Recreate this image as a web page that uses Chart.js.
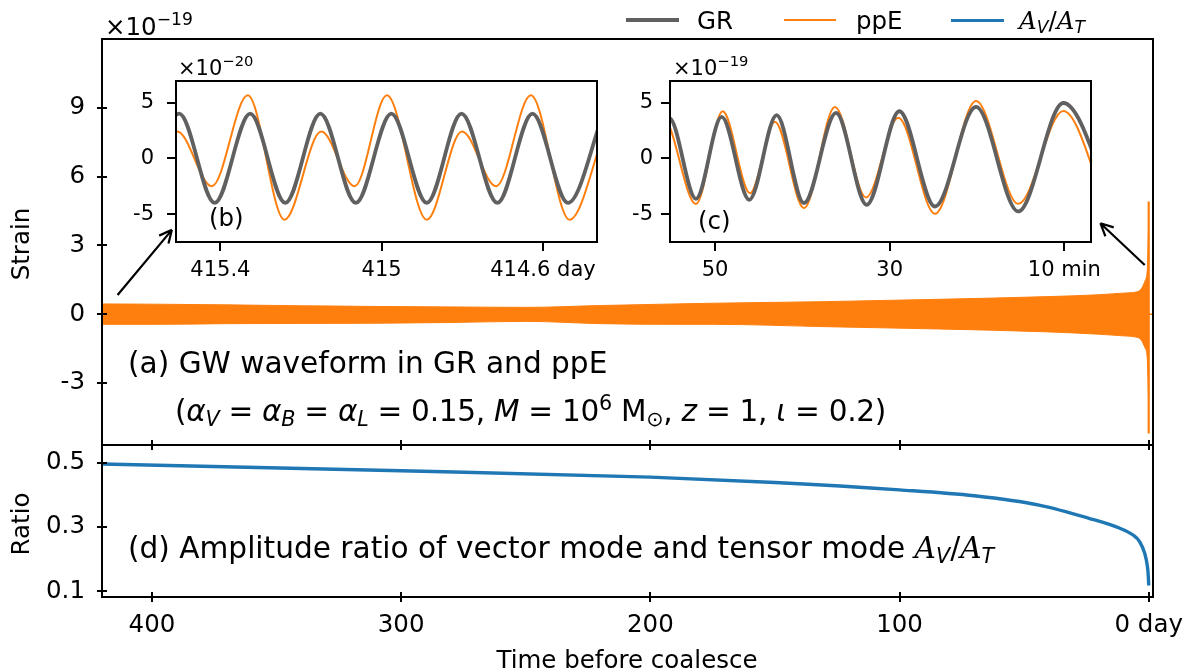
<!DOCTYPE html>
<html>
<head>
<meta charset="utf-8">
<script src="https://cdn.jsdelivr.net/npm/chart.js@4.4.0/dist/chart.umd.min.js"></script>
<style>
  body { margin: 0; background: #fff; }
  #fig { position: relative; width: 1190px; height: 671px; overflow: hidden; font-family: 'DejaVu Sans', sans-serif; color: #000; }
  #fig canvas { position: absolute; left: 0; top: 0; }
  .t { position: absolute; white-space: nowrap; line-height: 1; transform: translateY(-50%); }
  .t sub, .t sup { font-size: 70%; line-height: 0; }
  .t sub { vertical-align: -0.25em; }
  .t sup { vertical-align: 0.55em; }
  .lg { position: absolute; }
  .cal { font-family: 'DejaVu Serif', serif; font-style: italic; }
</style>
</head>
<body>
<div id="fig">
  <canvas id="cA" width="1190" height="671"></canvas>
  <canvas id="cD" width="1190" height="671"></canvas>
  <canvas id="cB" width="1190" height="671"></canvas>
  <canvas id="cC" width="1190" height="671"></canvas>

  <div class="t" style="left:105px;top:27px;font-size:24.5px">×10<sup>−19</sup></div>
  <div class="t" style="left:178px;top:68px;font-size:21px">×10<sup>−20</sup></div>
  <div class="t" style="left:673px;top:68px;font-size:21px">×10<sup>−19</sup></div>
  <div class="t" style="left:209px;top:218px;font-size:24.5px">(b)</div>
  <div class="t" style="left:698px;top:221px;font-size:24.5px">(c)</div>
  <div class="t" style="left:128px;top:364px;font-size:29.6px">(a) GW waveform in GR and ppE</div>
  <div class="t" style="left:175px;top:412px;font-size:29.6px;letter-spacing:-0.3px">(<i>α<sub>V</sub></i> = <i>α<sub>B</sub></i> = <i>α<sub>L</sub></i> = 0.15, <i>M</i> = 10<sup>6</sup> M<sub>⊙</sub>, <i>z</i> = 1, <i>ι</i> = 0.2)</div>
  <div class="t" style="left:128px;top:549px;font-size:29.6px">(d) Amplitude ratio of vector mode and tensor mode <span class="cal">A</span><sub><i>V</i></sub>/<span class="cal">A</span><sub><i>T</i></sub></div>

  <div class="t" style="left:21px;top:244px;font-size:24.5px;transform:translate(-50%,-50%) rotate(-90deg)">Strain</div>
  <div class="t" style="left:21px;top:524px;font-size:24.5px;transform:translate(-50%,-50%) rotate(-90deg)">Ratio</div>
  <div class="t" style="left:627px;top:660px;font-size:24.5px;transform:translate(-50%,-50%)">Time before coalesce</div>

  <div class="lg" style="left:626px;top:18.2px;width:53px;height:3.6px;background:#606060"></div>
  <div class="t" style="left:697px;top:21px;font-size:24.5px">GR</div>
  <div class="lg" style="left:784px;top:19px;width:52px;height:2px;background:#ff7f0e"></div>
  <div class="t" style="left:856px;top:21px;font-size:24.5px">ppE</div>
  <div class="lg" style="left:951px;top:18.5px;width:53px;height:3px;background:#1f77b4"></div>
  <div class="t" style="left:1019px;top:21px;font-size:24.5px"><span class="cal">A</span><sub><i>V</i></sub>/<span class="cal">A</span><sub><i>T</i></sub></div>
</div>

<script>
// main axes, days before coalescence
const xTicksDays = [0, 100, 200, 300, 400];
const strainTicks = [-3, 0, 3, 6, 9];
const ratioTicks = [0.1, 0.3, 0.5];

// (a) envelope of the dense ppE oscillation, strain in 1e-19
const bandDays  = [420, 400, 370, 340, 310, 280, 250, 220, 190, 175, 130, 85, 40, 20, 9, 6, 3, 2.3, 1.3, 0.9, 0.5, 0.28, 0.1, 0];
const bandUpper = [0.45, 0.44, 0.41, 0.37, 0.34, 0.32, 0.30, 0.38, 0.45, 0.48, 0.55, 0.65, 0.77, 0.85, 0.93, 0.95, 1.10, 1.24, 1.50, 1.64, 2.10, 2.95, 3.60, 3.70];
const bandLower = [-0.44, -0.44, -0.41, -0.40, -0.39, -0.36, -0.31, -0.41, -0.44, -0.44, -0.54, -0.64, -0.77, -0.87, -0.95, -0.98, -1.12, -1.27, -1.50, -1.63, -2.10, -2.87, -3.60, -3.70];
const spikeDays = [0, 0];
const spikeStrain = [4.92, -5.2];
const tailDays = [0, -1.7];
const tailStrain = [0, 0];

// (d) amplitude ratio A_V/A_T
const ratioDays = [420, 300, 200, 150, 100, 70, 44, 24, 11.6, 6.3, 3.6, 1.6, 0.5, 0.15, 0];
const ratioVals = [0.496, 0.475, 0.455, 0.4385, 0.4155, 0.397, 0.368, 0.327, 0.296, 0.275, 0.254, 0.218, 0.176, 0.145, 0.118];

// (b) zoom near 415 days, strain in 1e-20
const bTicksX = [415.4, 415, 414.6];
const insetTicksY = [-5, 0, 5];
const bGrDays = [415.589, 415.502, 415.414, 415.326, 415.239, 415.152, 415.064, 414.976, 414.888, 414.802, 414.713, 414.626, 414.538, 414.450];
const bGrStrain = [-4, 4, -4, 4, -4, 4, -4, 4, -4, 4, -4, 4, -4, 4];
const bPpeDays = [415.597, 415.507, 415.421, 415.332, 415.241, 415.150, 415.067, 414.987, 414.888, 414.801, 414.716, 414.630, 414.534, 414.447];
const bPpeStrain = [-5.5, 2.4, -2.5, 5.65, -5.5, 2.4, -2.5, 5.65, -5.5, 2.4, -2.5, 5.65, -5.5, 2.4];

// (c) last hour, minutes before coalescence, strain in 1e-19
const cTicksX = [50, 30, 10];
const cGrMin = [58.21, 55.23, 52.18, 49.24, 46.07, 42.94, 39.81, 36.14, 32.63, 28.89, 24.81, 20.11, 15.27, 10.11, 4.01];
const cGrStrain = [-3.6, 3.6, -3.63, 3.71, -3.72, 3.87, -4.02, 4.07, -4.17, 4.22, -4.32, 4.61, -4.76, 4.96, -5.0];
const cPpeMin = [58.78, 55.92, 52.18, 49.12, 45.99, 43.13, 39.81, 36.26, 32.71, 29.01, 24.81, 20.11, 15.27, 10.11, 5.15];
const cPpeStrain = [-3.5, 3.6, -4.1, 4.22, -3.13, 3.27, -4.46, 4.61, -3.51, 3.63, -4.97, 5.14, -4.08, 4.25, -4.25];

// arrows from the main band to the insets, in (days, strain) of panel (a)
const arrowTails = [[413.8, 0.84], [1.6, 2.15]];
const arrowHeads = [[392.0, 3.68], [19.4, 3.97]];

const W = 1190, H = 671;
const GRAY = '#606060', ORANGE = '#ff7f0e', BLUE = '#1f77b4';
const FONT = { family: 'DejaVu Sans', size: 24.5 };
const SMALL = { family: 'DejaVu Sans', size: 21 };

const pts = (xs, ys) => xs.map((x, i) => ({ x: x, y: ys[i] }));
const padFor = (b, yW, xH) => ({ left: b.l - yW, top: b.t, right: W - b.r, bottom: H - b.b - xH });
const fixTicks = vals => s => { s.ticks = vals.map(v => ({ value: v })); };
const grid = len => ({ drawOnChartArea: false, drawTicks: true, tickLength: len, color: '#000', lineWidth: 2 });

// box around the plot area, white fill for insets, inward half of "inout" ticks
const framePlugin = {
  id: 'frame',
  beforeDraw(chart, args, opts) {
    if (!opts.fill) return;
    const a = chart.chartArea, ctx = chart.ctx;
    ctx.save();
    ctx.fillStyle = '#fff';
    ctx.fillRect(a.left, a.top, a.right - a.left, a.bottom - a.top);
    ctx.restore();
  },
  afterDraw(chart, args, opts) {
    const a = chart.chartArea, ctx = chart.ctx;
    ctx.save();
    ctx.strokeStyle = '#000';
    ctx.lineWidth = 2;
    if (opts.inward) {
      ctx.beginPath();
      chart.scales.x.ticks.forEach(t => {
        const px = Math.round(chart.scales.x.getPixelForValue(t.value));
        ctx.moveTo(px, a.bottom);
        ctx.lineTo(px, a.bottom - opts.inward);
      });
      chart.scales.y.ticks.forEach(t => {
        const py = Math.round(chart.scales.y.getPixelForValue(t.value));
        ctx.moveTo(a.left, py);
        ctx.lineTo(a.left + opts.inward, py);
      });
      ctx.stroke();
    }
    ctx.strokeRect(a.left, a.top, a.right - a.left, a.bottom - a.top);
    ctx.restore();
  }
};

const arrowPlugin = {
  id: 'arrows',
  afterDraw(chart) {
    const ctx = chart.ctx, sx = chart.scales.x, sy = chart.scales.y;
    ctx.save();
    ctx.strokeStyle = '#000';
    ctx.lineWidth = 2.2;
    arrowTails.forEach((tail, i) => {
      const x0 = sx.getPixelForValue(tail[0]), y0 = sy.getPixelForValue(tail[1]);
      const x1 = sx.getPixelForValue(arrowHeads[i][0]), y1 = sy.getPixelForValue(arrowHeads[i][1]);
      const ang = Math.atan2(y1 - y0, x1 - x0);
      ctx.beginPath();
      ctx.moveTo(x0, y0);
      ctx.lineTo(x1, y1);
      [0.45, -0.45].forEach(d => {
        ctx.moveTo(x1, y1);
        ctx.lineTo(x1 - 14 * Math.cos(ang + d), y1 - 14 * Math.sin(ang + d));
      });
      ctx.stroke();
    });
    ctx.restore();
  }
};

const base = {
  responsive: false,
  animation: false,
  events: [],
  elements: { point: { radius: 0 } }
};

// (a) strain
const boxA = { l: 102, t: 39, r: 1153, b: 445 };
new Chart(document.getElementById('cA'), {
  type: 'line',
  data: {
    datasets: [
      { data: pts(bandDays, bandUpper), borderColor: ORANGE, backgroundColor: ORANGE, borderWidth: 1, fill: '+1', cubicInterpolationMode: 'monotone' },
      { data: pts(bandDays, bandLower), borderColor: ORANGE, borderWidth: 1, fill: false, cubicInterpolationMode: 'monotone' },
      { data: pts(spikeDays, spikeStrain), borderColor: ORANGE, borderWidth: 2.2, fill: false },
      { data: pts(tailDays, tailStrain), borderColor: ORANGE, borderWidth: 1.5, fill: false }
    ]
  },
  options: Object.assign({}, base, {
    layout: { padding: padFor(boxA, 60, 10) },
    plugins: { legend: { display: false }, tooltip: { enabled: false }, frame: { inward: 5 } },
    scales: {
      x: {
        type: 'linear', reverse: true, min: -1.72, max: 420.05,
        afterBuildTicks: fixTicks(xTicksDays), afterFit: s => { s.height = 10; },
        ticks: { display: false }, grid: grid(5), border: { display: false }
      },
      y: {
        min: -5.7, max: 12.0,
        afterBuildTicks: fixTicks(strainTicks), afterFit: s => { s.width = 60; },
        ticks: { font: FONT, color: '#000', padding: 12, callback: v => String(v) },
        grid: grid(5), border: { display: false }
      }
    }
  }),
  plugins: [framePlugin, arrowPlugin]
});

// (d) ratio
const boxD = { l: 102, t: 445, r: 1153, b: 597 };
new Chart(document.getElementById('cD'), {
  type: 'line',
  data: {
    datasets: [
      { data: pts(ratioDays, ratioVals), borderColor: BLUE, borderWidth: 3.4, fill: false, cubicInterpolationMode: 'monotone' }
    ]
  },
  options: Object.assign({}, base, {
    layout: { padding: padFor(boxD, 60, 50) },
    plugins: { legend: { display: false }, tooltip: { enabled: false }, frame: { inward: 5 } },
    scales: {
      x: {
        type: 'linear', reverse: true, min: -1.72, max: 420.05,
        afterBuildTicks: fixTicks(xTicksDays), afterFit: s => { s.height = 50; },
        ticks: { font: FONT, color: '#000', padding: 9, maxRotation: 0, autoSkip: false, callback: v => v === 0 ? '0 day' : String(v) },
        grid: grid(5), border: { display: false }
      },
      y: {
        min: 0.0822, max: 0.555,
        afterBuildTicks: fixTicks(ratioTicks), afterFit: s => { s.width = 60; },
        ticks: { font: FONT, color: '#000', padding: 12, callback: v => v.toFixed(1) },
        grid: grid(5), border: { display: false }
      }
    }
  }),
  plugins: [framePlugin]
});

function inset(id, box, xs1, ys1, xs2, ys2, xMin, xMax, xTicks, unit, yPad) {
  new Chart(document.getElementById(id), {
    type: 'line',
    data: {
      datasets: [
        { data: pts(xs1, ys1), borderColor: GRAY, borderWidth: 3.8, fill: false, cubicInterpolationMode: 'monotone' },
        { data: pts(xs2, ys2), borderColor: ORANGE, borderWidth: 2, fill: false, cubicInterpolationMode: 'monotone' }
      ]
    },
    options: Object.assign({}, base, {
      layout: { padding: padFor(box, 50, 40) },
      plugins: { legend: { display: false }, tooltip: { enabled: false }, frame: { fill: true, inward: 0 } },
      scales: {
        x: {
          type: 'linear', reverse: true, min: xMin, max: xMax,
          afterBuildTicks: fixTicks(xTicks), afterFit: s => { s.height = 40; },
          ticks: { font: SMALL, color: '#000', padding: 7, maxRotation: 0, autoSkip: false,
                   callback: v => v === xTicks[xTicks.length - 1] ? v + ' ' + unit : String(v) },
          grid: grid(9), border: { display: false }
        },
        y: {
          min: -7.5, max: 6.93,
          afterBuildTicks: fixTicks(insetTicksY), afterFit: s => { s.width = 50; },
          ticks: { font: SMALL, color: '#000', padding: yPad, callback: v => String(v) },
          grid: grid(9), border: { display: false }
        }
      }
    }),
    plugins: [framePlugin]
  });
}

inset('cB', { l: 176, t: 81, r: 597, b: 242 }, bGrDays, bGrStrain, bPpeDays, bPpeStrain, 414.466, 415.51, bTicksX, 'day', 13);
inset('cC', { l: 670, t: 81, r: 1091, b: 242 }, cGrMin, cGrStrain, cPpeMin, cPpeStrain, 6.942, 55.153, cTicksX, 'min', 8);
</script>
</body>
</html>
